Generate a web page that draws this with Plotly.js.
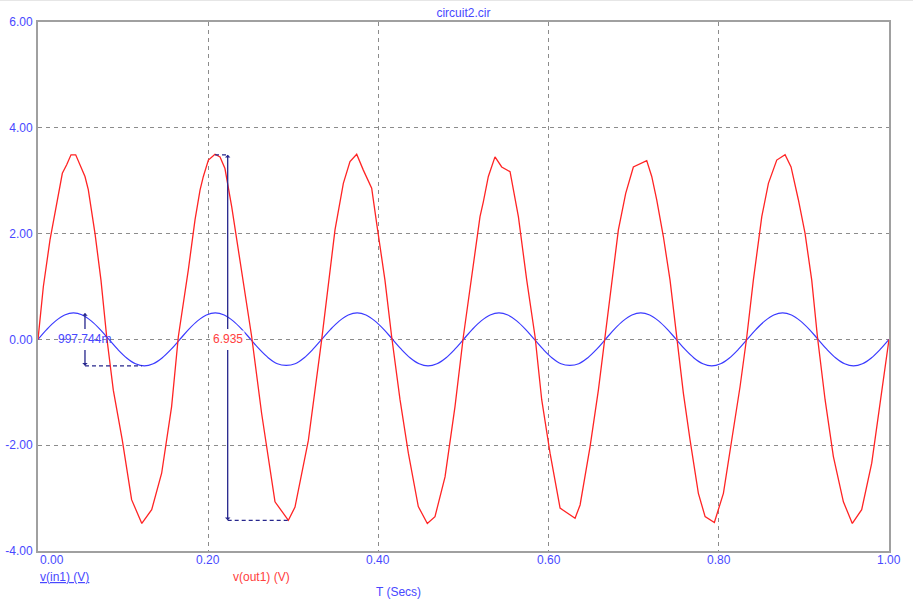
<!DOCTYPE html>
<html>
<head>
<meta charset="utf-8">
<script src="https://cdn.plot.ly/plotly-3.0.1.min.js"></script>
<style>html,body{margin:0;padding:0;background:#fff;}#chart{width:913px;height:607px;}</style>
</head>
<body>
<div id="chart"></div>
<script>
// ---- data ----
const chartTitle = 'circuit2.cir';
const xTitle = 'T (Secs)';
const seriesNames = ['v(in1) (V)', 'v(out1) (V)'];
const xTickVals = [0, 0.2, 0.4, 0.6, 0.8, 1.0];
const xTickText = ['0.00', '0.20', '0.40', '0.60', '0.80', '1.00'];
const yTickVals = [-4, -2, 0, 2, 4, 6];
const yTickText = ['-4.00', '-2.00', '0.00', '2.00', '4.00', '6.00'];

// v(in1): time (s) and volts
const inT = [0, 0.0104, 0.0208, 0.0313, 0.0417, 0.0521, 0.0625, 0.0729, 0.0833, 0.0938, 0.1042, 0.1146, 0.125, 0.1354, 0.1458, 0.1563,
  0.1667, 0.1771, 0.1875, 0.1979, 0.2083, 0.2188, 0.2292, 0.2396, 0.25, 0.2604, 0.2708, 0.2813, 0.2917, 0.3021, 0.3125, 0.3229,
  0.3333, 0.3438, 0.3542, 0.3646, 0.375, 0.3854, 0.3958, 0.4063, 0.4167, 0.4271, 0.4375, 0.4479, 0.4583, 0.4688, 0.4792, 0.4896,
  0.5, 0.5104, 0.5208, 0.5313, 0.5417, 0.5521, 0.5625, 0.5729, 0.5833, 0.5938, 0.6042, 0.6146, 0.625, 0.6354, 0.6458, 0.6563,
  0.6667, 0.6771, 0.6875, 0.6979, 0.7083, 0.7188, 0.7292, 0.7396, 0.75, 0.7604, 0.7708, 0.7813, 0.7917, 0.8021, 0.8125, 0.8229,
  0.8333, 0.8438, 0.8542, 0.8646, 0.875, 0.8854, 0.8958, 0.9063, 0.9167, 0.9271, 0.9375, 0.9479, 0.9583, 0.9688, 0.9792, 0.9896, 1.0];
const inV = [0, 0.19, 0.35, 0.46, 0.50, 0.46, 0.35, 0.19, 0.0, -0.19, -0.35, -0.46, -0.50, -0.46, -0.35, -0.19,
  0.0, 0.19, 0.35, 0.46, 0.50, 0.46, 0.35, 0.19, 0.0, -0.19, -0.35, -0.46, -0.49, -0.46, -0.35, -0.19,
  0.0, 0.19, 0.35, 0.46, 0.50, 0.46, 0.35, 0.19, 0.0, -0.19, -0.35, -0.46, -0.50, -0.46, -0.35, -0.19,
  0.0, 0.19, 0.35, 0.46, 0.50, 0.46, 0.35, 0.19, 0.0, -0.19, -0.35, -0.46, -0.49, -0.46, -0.35, -0.19,
  0.0, 0.19, 0.35, 0.46, 0.50, 0.46, 0.35, 0.19, 0.0, -0.19, -0.35, -0.46, -0.50, -0.46, -0.35, -0.19,
  0.0, 0.19, 0.35, 0.46, 0.50, 0.46, 0.35, 0.19, 0.0, -0.19, -0.35, -0.46, -0.50, -0.46, -0.35, -0.19, 0.0];

// v(out1): simulator time points (s) and volts
const outT = [0, 0.0063, 0.0141, 0.0219, 0.0286, 0.0337, 0.0388, 0.0443, 0.0494, 0.0552, 0.0591, 0.0670, 0.0740, 0.0807, 0.0885, 0.0990, 0.1100, 0.1220, 0.1336, 0.1453, 0.1570, 0.1649,
  0.1766, 0.1845, 0.1904, 0.1943, 0.2002, 0.2080, 0.2139, 0.2197, 0.2276, 0.2354, 0.2511, 0.2628, 0.2785, 0.2942, 0.3020, 0.3177, 0.3334,
  0.3490, 0.3588, 0.3666, 0.3745, 0.3823, 0.3921, 0.3980, 0.4077, 0.4156, 0.4254, 0.4352, 0.4469, 0.4575, 0.4665, 0.4783, 0.4900, 0.4998,
  0.5116, 0.5194, 0.5233, 0.5292, 0.5370, 0.5449, 0.5547, 0.5645, 0.5743, 0.5841, 0.5919, 0.6017, 0.6135, 0.6311, 0.6370, 0.6487, 0.6585, 0.6664,
  0.6820, 0.6906, 0.6996, 0.7153, 0.7212, 0.7270, 0.7349, 0.7427, 0.7505, 0.7584, 0.7662, 0.7760, 0.7839, 0.7948, 0.8054, 0.8152, 0.8250, 0.8329,
  0.8406, 0.8505, 0.8583, 0.8681, 0.8779, 0.8849, 0.8935, 0.9013, 0.9092, 0.9159, 0.9249, 0.9346, 0.9464, 0.9569, 0.9679, 0.9797, 0.9915, 1.0];
const outV = [0, 1.00, 1.88, 2.57, 3.14, 3.30, 3.49, 3.49, 3.30, 3.08, 2.83, 2.00, 1.12, 0.05, -0.96, -1.90, -3.03, -3.48, -3.22, -2.53, -1.27, 0.05,
  1.31, 2.26, 2.82, 3.08, 3.39, 3.50, 3.45, 3.23, 2.51, 1.69, 0.05, -1.40, -3.07, -3.42, -3.17, -1.91, 0.0,
  2.07, 2.95, 3.36, 3.50, 3.20, 2.86, 2.19, 1.12, 0.05, -1.14, -2.15, -3.16, -3.48, -3.35, -2.60, -1.27, 0.05,
  1.37, 2.32, 2.60, 3.08, 3.45, 3.26, 3.17, 2.32, 1.12, 0.05, -1.14, -2.15, -3.19, -3.38, -3.13, -2.03, -0.96, 0.05,
  2.07, 2.76, 3.26, 3.38, 3.08, 2.64, 1.94, 1.12, 0.05, -1.02, -1.90, -2.91, -3.35, -3.46, -2.91, -1.90, -0.89, 0.05,
  1.12, 2.32, 2.95, 3.39, 3.49, 3.26, 2.64, 2.01, 1.12, 0.05, -1.14, -2.21, -3.07, -3.48, -3.22, -2.34, -0.96, 0.0];

// measurement cursors: [time, top value, bottom value, end time of lower dashed line, label]
const inMeasure = {t: 0.0552, top: 0.5, bottom: -0.5, tEnd: 0.122, label: '997.744m'};
const outMeasure = {t: 0.2229, top: 3.49, bottom: -3.42, tStart: 0.208, tEnd: 0.2942, label: '6.935'};

// ---- styling ----
const BLUE = '#3a3aff';
const TXTBLUE = '#4848ff';
const RED = '#ff2424';
const NAVY = '#26268c';
const FONT = 'Liberation Sans, Arial, sans-serif';

const traces = [
  {x: inT, y: inV, name: seriesNames[0], mode: 'lines', line: {color: BLUE, width: 1.2, shape: 'spline', smoothing: 1}},
  {x: outT, y: outV, name: seriesNames[1], mode: 'lines', line: {color: RED, width: 1.3}}
];

const annotations = [];
// x tick labels
xTickVals.forEach((v, i) => {
  annotations.push({xref: 'x', yref: 'paper', x: v, y: -0.017, text: xTickText[i], showarrow: false,
    xanchor: i === 0 ? 'left' : 'center', yanchor: 'middle', font: {family: FONT, size: 12, color: TXTBLUE}});
});
// series labels & axis title
annotations.push({xref: 'paper', yref: 'paper', x: 0, y: -0.05, xanchor: 'left', yanchor: 'middle', showarrow: false,
  text: '<span style="text-decoration:underline">' + seriesNames[0] + '</span>', font: {family: FONT, size: 12, color: TXTBLUE}});
annotations.push({xref: 'paper', yref: 'paper', x: 0.2268, y: -0.05, xanchor: 'left', yanchor: 'middle', showarrow: false,
  text: seriesNames[1], font: {family: FONT, size: 12, color: '#ff4040'}});
annotations.push({xref: 'paper', yref: 'paper', x: 0.4242, y: -0.078, xanchor: 'center', yanchor: 'middle', showarrow: false,
  text: xTitle, font: {family: FONT, size: 12, color: TXTBLUE}});

// cursor arrows (two segments each, broken by the label)
function cursor(m, gap) {
  annotations.push({xref: 'x', yref: 'y', axref: 'x', ayref: 'y', x: m.t, y: m.top, ax: m.t, ay: gap, text: '',
    showarrow: true, arrowhead: 1, arrowsize: 0.7, arrowwidth: 1.3, arrowcolor: NAVY, standoff: 0, startstandoff: 0});
  annotations.push({xref: 'x', yref: 'y', axref: 'x', ayref: 'y', x: m.t, y: m.bottom, ax: m.t, ay: -gap, text: '',
    showarrow: true, arrowhead: 1, arrowsize: 0.7, arrowwidth: 1.3, arrowcolor: NAVY, standoff: 0, startstandoff: 0});
}
cursor(inMeasure, 0.17);
cursor(outMeasure, 0.17);
annotations.push({xref: 'x', yref: 'y', x: inMeasure.t, y: 0, text: inMeasure.label, showarrow: false,
  xanchor: 'center', yanchor: 'middle', font: {family: FONT, size: 12, color: TXTBLUE}});
annotations.push({xref: 'x', yref: 'y', x: outMeasure.t, y: 0, text: outMeasure.label, showarrow: false,
  xanchor: 'center', yanchor: 'middle', font: {family: FONT, size: 12, color: '#ff4040'}, bgcolor: 'rgba(255,255,255,0.85)'});

const shapes = [
  {type: 'line', xref: 'x', yref: 'y', x0: inMeasure.t, x1: inMeasure.tEnd, y0: inMeasure.bottom, y1: inMeasure.bottom,
    line: {color: NAVY, width: 1.2, dash: '4px,3px'}},
  {type: 'line', xref: 'x', yref: 'y', x0: outMeasure.tStart, x1: outMeasure.t, y0: outMeasure.top, y1: outMeasure.top,
    line: {color: NAVY, width: 1.2, dash: '4px,3px'}},
  {type: 'line', xref: 'x', yref: 'y', x0: outMeasure.t, x1: outMeasure.tEnd, y0: outMeasure.bottom, y1: outMeasure.bottom,
    line: {color: NAVY, width: 1.2, dash: '4px,3px'}},
  {type: 'line', xref: 'paper', yref: 'paper', x0: -0.05, x1: 1.03, y0: 1.0416, y1: 1.0416, line: {color: '#e6e6e6', width: 2}}
];

const layout = {
  width: 913, height: 607,
  margin: {l: 38, r: 24, t: 22, b: 56, pad: 0},
  paper_bgcolor: '#ffffff', plot_bgcolor: '#ffffff',
  showlegend: false,
  title: {text: chartTitle, x: 0.5076, xanchor: 'center', y: 0.979, yanchor: 'middle',
    font: {family: FONT, size: 12, color: TXTBLUE}},
  xaxis: {range: [0, 1], tickvals: xTickVals, showticklabels: false, ticks: '',
    showgrid: true, gridcolor: '#8c8c8c', gridwidth: 1, griddash: '4px,4px', zeroline: false,
    showline: true, mirror: true, linecolor: '#a0a0a0', linewidth: 2},
  yaxis: {range: [-4, 6], tickvals: yTickVals, ticktext: yTickText, ticks: '',
    tickfont: {family: FONT, size: 12, color: TXTBLUE}, ticklabelstandoff: 1,
    showgrid: true, gridcolor: '#8c8c8c', gridwidth: 1, griddash: '4px,4px', zeroline: false,
    showline: true, mirror: true, linecolor: '#a0a0a0', linewidth: 2},
  annotations: annotations,
  shapes: shapes
};

Plotly.newPlot('chart', traces, layout, {staticPlot: true, displayModeBar: false});
</script>
</body>
</html>
